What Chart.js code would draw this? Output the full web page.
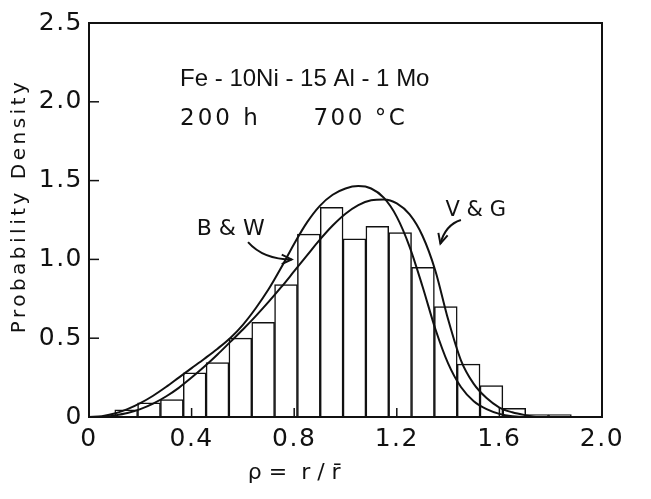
<!DOCTYPE html>
<html>
<head>
<meta charset="utf-8">
<script src="https://cdn.jsdelivr.net/npm/chart.js@4.4.0/dist/chart.umd.min.js"></script>
<style>
  html, body { margin: 0; padding: 0; background: #fff; }
  #wrap { width: 651px; height: 499px; }
</style>
</head>
<body>
<div id="wrap"><canvas id="grafico" width="651" height="499"></canvas></div>
<script>
// histogram of rho = r / r-bar : bin centres and probability density
const binCenters = [0.145, 0.234, 0.323, 0.412, 0.501, 0.590, 0.679, 0.768, 0.857, 0.946,
                    1.035, 1.124, 1.213, 1.302, 1.391, 1.480, 1.569, 1.658, 1.747, 1.836];
const binHeights = [0.045, 0.09, 0.11, 0.28, 0.345, 0.50, 0.60, 0.84, 1.16, 1.33,
                    1.13, 1.21, 1.17, 0.95, 0.70, 0.335, 0.20, 0.055, 0.015, 0.015];

// theoretical curves
const rhoGrid = [0.00, 0.05, 0.10, 0.15, 0.20, 0.25, 0.30, 0.35, 0.40, 0.45,
                 0.50, 0.55, 0.60, 0.65, 0.70, 0.75, 0.80, 0.85, 0.90, 0.95,
                 1.00, 1.05, 1.10, 1.15, 1.20, 1.25, 1.30, 1.35, 1.40, 1.45,
                 1.50, 1.55, 1.60, 1.65, 1.70, 1.75, 1.80];
const bwCurve = [0, 0.005, 0.022, 0.05, 0.088, 0.135, 0.19, 0.25, 0.31, 0.37,
                 0.432, 0.50, 0.585, 0.69, 0.81, 0.95, 1.10, 1.235, 1.34, 1.41,
                 1.45, 1.465, 1.45, 1.39, 1.27, 1.08, 0.83, 0.56, 0.34, 0.19,
                 0.10, 0.05, 0.02, 0.005, 0, 0, 0];
const vgCurve = [0, 0, 0.01, 0.025, 0.05, 0.085, 0.13, 0.185, 0.25, 0.32,
                 0.395, 0.475, 0.555, 0.64, 0.73, 0.825, 0.925, 1.025, 1.125, 1.215,
                 1.29, 1.345, 1.375, 1.38, 1.355, 1.285, 1.15, 0.93, 0.62, 0.36,
                 0.21, 0.12, 0.06, 0.03, 0.012, 0, 0];

const xTicks = [0, 0.4, 0.8, 1.2, 1.6, 2.0];
const yTicks = [0, 0.5, 1.0, 1.5, 2.0, 2.5];

const fonte = "'DejaVu Sans', sans-serif";
const tinta = "#111";

// labels inside the plot, in data units
const notas = [
  { text: "Fe - 10Ni - 15 Al - 1 Mo", x: 0.355, y: 2.14, font: "24px 'Liberation Sans', sans-serif", sp: "0px" },
  { text: "200 h", x: 0.355, y: 1.89, font: "23px " + fonte, sp: "3px" },
  { text: "700 \u00b0C", x: 0.875, y: 1.89, font: "23px " + fonte, sp: "2.5px" },
  { text: "B & W", x: 0.42, y: 1.19, font: "22px " + fonte, sp: "0px" },
  { text: "V & G", x: 1.39, y: 1.31, font: "21px " + fonte, sp: "0px" }
];
// arrows: start, control, tip
const setas = [
  { from: [0.62, 1.11], ctrl: [0.68, 1.00], to: [0.79, 1.00] },
  { from: [1.45, 1.25], ctrl: [1.39, 1.22], to: [1.37, 1.10] }
];

function fmt(v) {
  return v === 0 ? "0" : v.toFixed(1);
}

const moldura = {
  id: "moldura",
  beforeDraw(chart) {
    chart.ctx.letterSpacing = "1.5px";
  },
  afterDraw(chart) {
    const { ctx, chartArea: a, scales } = chart;
    const sx = scales.x, sy = scales.y;
    ctx.save();
    ctx.strokeStyle = tinta;
    ctx.lineWidth = 2;
    ctx.strokeRect(a.left, a.top, a.right - a.left, a.bottom - a.top);

    // short inward ticks
    ctx.lineWidth = 1.5;
    yTicks.forEach(v => {
      if (v === 0 || v === 2.5) return;
      const py = sy.getPixelForValue(v);
      ctx.beginPath();
      ctx.moveTo(a.left, py);
      ctx.lineTo(a.left + 10, py);
      ctx.stroke();
    });
    xTicks.forEach(v => {
      if (v === 0 || v === 2.0) return;
      const px = sx.getPixelForValue(v);
      ctx.beginPath();
      ctx.moveTo(px, a.bottom);
      ctx.lineTo(px, a.bottom - 9);
      ctx.stroke();
    });

    // texts
    ctx.fillStyle = tinta;
    ctx.textBaseline = "middle";
    ctx.textAlign = "left";
    notas.forEach(n => {
      ctx.font = n.font;
      ctx.letterSpacing = n.sp;
      ctx.fillText(n.text, sx.getPixelForValue(n.x), sy.getPixelForValue(n.y));
    });

    // x axis title
    ctx.font = "22px " + fonte;
    ctx.letterSpacing = "0px";
    ctx.textAlign = "center";
    ctx.fillText("\u03c1 =  r / r\u0304", sx.getPixelForValue(0.8), a.bottom + 56);

    // y axis title
    ctx.save();
    ctx.translate(20, 206);
    ctx.rotate(-Math.PI / 2);
    ctx.font = "20px " + fonte;
    ctx.letterSpacing = "3.5px";
    ctx.fillText("Probability Density", 0, 0);
    ctx.restore();

    // arrows
    ctx.lineWidth = 2;
    setas.forEach(s => {
      const x0 = sx.getPixelForValue(s.from[0]), y0 = sy.getPixelForValue(s.from[1]);
      const xc = sx.getPixelForValue(s.ctrl[0]), yc = sy.getPixelForValue(s.ctrl[1]);
      const x1 = sx.getPixelForValue(s.to[0]), y1 = sy.getPixelForValue(s.to[1]);
      ctx.beginPath();
      ctx.moveTo(x0, y0);
      ctx.quadraticCurveTo(xc, yc, x1, y1);
      ctx.stroke();
      const ang = Math.atan2(y1 - yc, x1 - xc);
      const len = 11;
      ctx.beginPath();
      ctx.moveTo(x1 - len * Math.cos(ang - 0.45), y1 - len * Math.sin(ang - 0.45));
      ctx.lineTo(x1, y1);
      ctx.lineTo(x1 - len * Math.cos(ang + 0.45), y1 - len * Math.sin(ang + 0.45));
      ctx.stroke();
    });
    ctx.restore();
  }
};

const ctx = document.getElementById("grafico").getContext("2d");
const grafico = new Chart(ctx, {
  type: "bar",
  data: {
    datasets: [
      {
        type: "line",
        label: "B & W",
        data: rhoGrid.map((x, i) => ({ x: x, y: bwCurve[i] })),
        borderColor: tinta,
        borderWidth: 2,
        pointRadius: 0,
        cubicInterpolationMode: "monotone",
        order: 1
      },
      {
        type: "line",
        label: "V & G",
        data: rhoGrid.map((x, i) => ({ x: x, y: vgCurve[i] })),
        borderColor: tinta,
        borderWidth: 2,
        pointRadius: 0,
        cubicInterpolationMode: "monotone",
        order: 1
      },
      {
        type: "bar",
        label: "Histogram",
        data: binCenters.map((x, i) => ({ x: x, y: binHeights[i] })),
        backgroundColor: "#fff",
        borderColor: tinta,
        borderWidth: 1.5,
        barPercentage: 1,
        categoryPercentage: 1,
        order: 2
      }
    ]
  },
  options: {
    responsive: false,
    animation: false,
    layout: { padding: { top: 23, right: 49, left: 0, bottom: 0 } },
    plugins: { legend: { display: false }, tooltip: { enabled: false } },
    scales: {
      x: {
        type: "linear",
        min: 0,
        max: 2.0,
        offset: false,
        grid: { display: false, drawTicks: false },
        border: { display: false },
        afterBuildTicks: s => { s.ticks = xTicks.map(v => ({ value: v })); },
        afterFit: s => { s.height = 82; },
        ticks: {
          padding: 7,
          maxRotation: 0,
          autoSkip: false,
          color: tinta,
          font: { family: fonte, size: 25 },
          callback: v => fmt(v)
        }
      },
      y: {
        min: 0,
        max: 2.5,
        grid: { display: false, drawTicks: false },
        border: { display: false },
        afterBuildTicks: s => { s.ticks = yTicks.map(v => ({ value: v })); },
        afterFit: s => { s.width = 89; },
        ticks: {
          padding: 6,
          color: tinta,
          font: { family: fonte, size: 25 },
          callback: v => fmt(v)
        }
      }
    }
  },
  plugins: [moldura]
});
</script>
</body>
</html>
